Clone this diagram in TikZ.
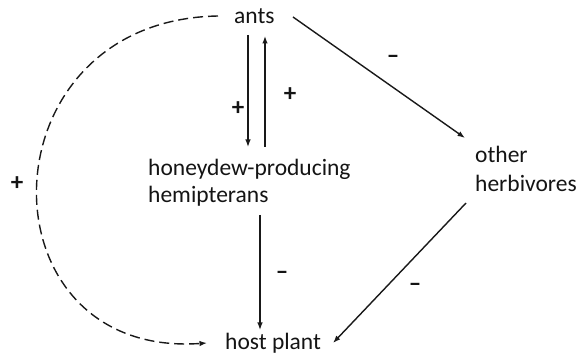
\documentclass[tikz,border=0pt]{standalone}
\usepackage{fontspec}
\setmainfont{Carlito}
\usetikzlibrary{arrows.meta,calc}
\begin{document}
\begin{tikzpicture}[x=1pt,y=-1pt,
  lbl/.style={inner sep=0pt,anchor=base west,font=\fontsize{23.5}{28}\selectfont,text=black!92},
  sign/.style={inner sep=0pt,anchor=base,font=\bfseries\fontsize{25}{28}\selectfont,text=black!92},
  arr/.style={draw=black!90,line width=1.4pt,-{Latex[length=7.5pt,width=5.5pt]}},
  darr/.style={arr,dash pattern=on 10pt off 5pt}]
\useasboundingbox (0,0) rectangle (582,355);
\node[lbl] (ants) at (234,24) {ants};
\node[lbl] (hd1) at (148,176) {honeydew-producing};
\node[lbl] (hd2) at (148,203) {hemipterans};
\node[lbl] (oh1) at (475,163) {other};
\node[lbl] (oh2) at (475,192) {herbivores};
\node[lbl] (host) at (225,350) {host plant};
\draw[arr] ($(ants.base west)+(14,11)$) -- ($(hd1.base west)+(100,-29)$);
\draw[arr] ($(hd1.base west)+(117,-29)$) -- ($(ants.base west)+(31,12)$);
\draw[arr] ($(ants.base west)+(59,-7)$) -- ($(oh1.base west)+(-10,-25)$);
\draw[arr] ($(hd2.base west)+(112,12)$) -- ($(host.base west)+(35,-20)$);
\draw[arr] ($(oh2.base west)+(-9,11)$) -- ($(host.base west)+(108,-7)$);
\draw[darr] ($(ants.base west)+(-16,-8)$) .. controls (-20,20) and (-22,359) .. ($(host.base west)+(-18,-7)$);
\node[sign] (p1) at (238,116) {+};
\node[sign] (p2) at (290,102) {+};
\node[sign] (p3) at (17,191) {+};
\node[sign] (m1) at (393,64) {–};
\node[sign] (m2) at (282,280) {–};
\node[sign] (m3) at (415,292) {–};
\end{tikzpicture}
\end{document}
